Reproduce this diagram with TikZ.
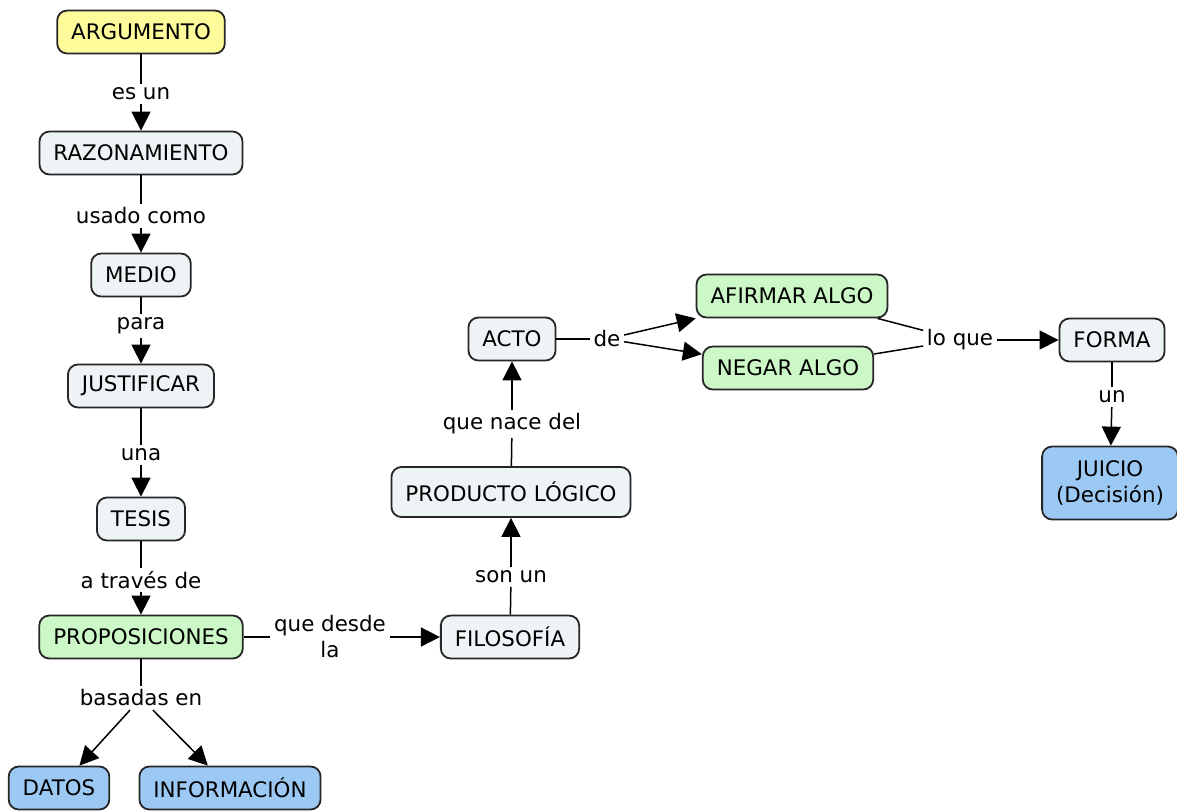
\documentclass[tikz,border=0pt]{standalone}
\usepackage{fontspec}
\setmainfont{DejaVu Sans}
\usepackage{tikz}
\usetikzlibrary{arrows.meta}
\definecolor{conceptgray}{HTML}{EEF3F5}
\definecolor{conceptyellow}{HTML}{FDFB9A}
\definecolor{conceptgreen}{HTML}{CCF7C6}
\definecolor{conceptblue}{HTML}{9CC8F4}

\begin{document}
\begin{tikzpicture}[
        x=0.5pt, y=-0.5pt,
        every node/.style={font=\fontsize{10.7}{13}\selectfont},
        concept/.style={rectangle, rounded corners=5pt, draw=black!85, line width=0.9pt,
            fill=conceptgray, inner xsep=7pt, minimum height=21.5pt},
        link/.style={inner sep=1.5pt, align=center},
        arr/.style={-{Triangle[length=9.5pt,width=9.5pt]}},
        line width=0.75pt
    ]
    \useasboundingbox (0,0) rectangle (1177,810);

    % concepts
    \node[concept, fill=conceptyellow] (argumento) at (141,32) {ARGUMENTO};
    \node[concept] (razonamiento) at (141,153) {RAZONAMIENTO};
    \node[concept] (medio) at (141,275) {MEDIO};
    \node[concept] (justificar) at (141,386) {JUSTIFICAR};
    \node[concept] (tesis) at (141,519) {TESIS};
    \node[concept, fill=conceptgreen] (proposiciones) at (141,637) {PROPOSICIONES};
    \node[concept, fill=conceptblue] (datos) at (59,788) {DATOS};
    \node[concept, fill=conceptblue] (informacion) at (230,788) {INFORMACIÓN};
    \node[concept] (filosofia) at (510,637) {FILOSOFÍA};
    \node[concept, minimum height=25pt] (producto) at (511,492) {PRODUCTO LÓGICO};
    \node[concept] (acto) at (512,339) {ACTO};
    \node[concept, fill=conceptgreen] (afirmar) at (792,296) {AFIRMAR ALGO};
    \node[concept, fill=conceptgreen] (negar) at (788,368) {NEGAR ALGO};
    \node[concept] (forma) at (1112,340) {FORMA};
    \node[concept, fill=conceptblue, align=center, minimum height=36.5pt] (juicio) at (1110,483) {JUICIO\\(Decisión)};

    % linking phrases
    \node[link] (esun) at (141,94) {es un};
    \node[link] (usado) at (141,216) {usado como};
    \node[link] (para) at (141,326) {para};
    \node[link] (una) at (141,455) {una};
    \node[link] (atraves) at (141,580) {a través de};
    \node[link] (basadas) at (141,698) {basadas en};
    \node[link] (quedesde) at (330,637) {que desde\\la};
    \node[link] (sonun) at (511,577) {son un};
    \node[link] (quenace) at (512,424) {que nace del};
    \node[link] (de) at (607,339) {de};
    \node[link] (loque) at (960,340) {lo que};
    \node[link] (un) at (1112,397) {un};

    % connections
    \draw (argumento) -- (esun);
    \draw[arr] (esun) -- (razonamiento);
    \draw (razonamiento) -- (usado);
    \draw[arr] (usado) -- (medio);
    \draw (medio) -- (para);
    \draw[arr] (para) -- (justificar);
    \draw (justificar) -- (una);
    \draw[arr] (una) -- (tesis);
    \draw (tesis) -- (atraves);
    \draw[arr] (atraves) -- (proposiciones);
    \draw (proposiciones) -- (basadas);
    \draw[arr] (basadas) -- (datos);
    \draw[arr] (basadas) -- (informacion);
    \draw (proposiciones) -- (quedesde);
    \draw[arr] (quedesde) -- (filosofia);
    \draw (filosofia) -- (sonun);
    \draw[arr] (sonun) -- (producto);
    \draw (producto) -- (quenace);
    \draw[arr] (quenace) -- (acto);
    \draw (acto) -- (de);
    \draw[arr] (de) -- (afirmar);
    \draw[arr] (de) -- (negar);
    \draw (afirmar) -- (loque);
    \draw (negar) -- (loque);
    \draw[arr] (loque) -- (forma);
    \draw (forma) -- (un);
    \draw[arr] (un) -- (juicio);

\end{tikzpicture}
\end{document}
